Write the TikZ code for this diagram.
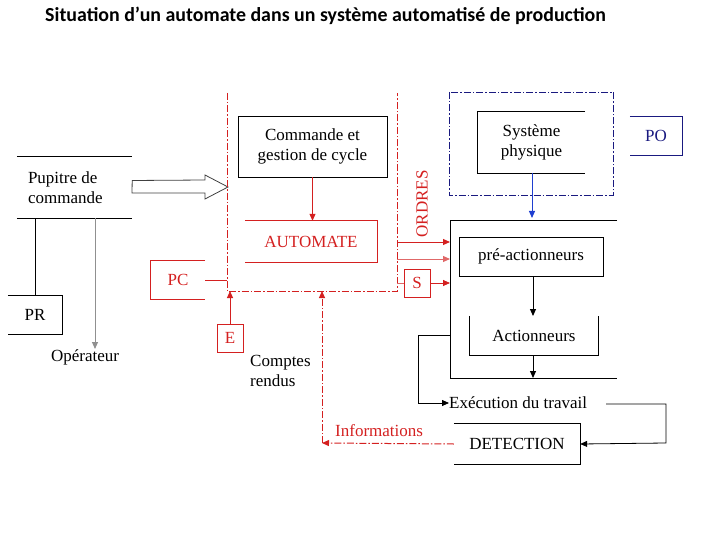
\documentclass[tikz,border=0pt]{standalone}
\usepackage{fontspec}
\setmainfont{Liberation Serif}
\newfontfamily\titlefont{Carlito}
\usetikzlibrary{arrows.meta}
\definecolor{cred}{HTML}{D42020}
\definecolor{lred}{HTML}{E06868}
\definecolor{navy}{HTML}{1A1A80}
\definecolor{cblue}{HTML}{1F3FD0}
\definecolor{gline}{HTML}{909090}
\tikzset{
  txt/.style={font=\fontsize{17}{20}\selectfont, align=center, inner sep=0pt},
  dd/.style={dash pattern=on 7pt off 2pt on 1.5pt off 2pt},
  tip/.style={-{Triangle[length=7pt,width=6pt]}},
  ln/.style={line width=0.8pt},
}
\begin{document}
\begin{tikzpicture}[x=1pt,y=-1pt]
\useasboundingbox (0,0) rectangle (720,540);
% title
\node[anchor=base west, inner sep=0pt, font=\titlefont\bfseries\fontsize{19.9}{22}\selectfont] (title) at (45,22) {Situation d’un automate dans un système automatisé de production};

% Pupitre
\node[txt, align=flush left, text width=104, minimum height=61] (pup) at (80,187.5) {Pupitre de\\commande};
\draw[ln] ([xshift=-11]pup.north west) -- (pup.north east);
\draw[ln] ([xshift=-11]pup.south west) -- (pup.south east);
% PR
\node[txt, minimum width=54, minimum height=38] (pr) at (35,315) {PR};
\draw[ln] (pr.north west) -- (pr.north east) -- (pr.south east) -- (pr.south west);
\draw[ln] (pr.north) ++(0.5,0) coordinate (prt) (pup.south west -| prt) -- (prt);
% Operateur
\node[txt, anchor=north] (op) at (85,349) {Opérateur};
\coordinate (opt) at (95,218);
\draw[gline, line width=1pt, -{Triangle[length=7pt,width=6pt]}] (opt) -- (opt |- op.north);
% hollow arrow
\draw[line width=0.8pt, draw=black!75] (pup.east) ++(0,-7) -- (205,180) -- (205,175) -- (228,187) -- (205,199) -- (205,193) -- (132,193) -- cycle;

% PC area (red dash-dot)
\coordinate (pcTL) at (227,93);
\coordinate (pcBL) at (227,291);
\coordinate (pcBR) at (397,291);
\coordinate (pcTR) at (397,93);
\draw[cred, dd, line width=0.9pt] (pcTL) -- (pcBL) -- (pcBR) -- (pcTR);

% Commande et gestion de cycle
\node[txt, draw, ln, minimum width=149, minimum height=61] (cmd) at (312.5,146.5) {Commande et\\gestion de cycle};
% AUTOMATE
\node[txt, text=cred, minimum width=132, minimum height=41] (auto) at (311,241.5) {AUTOMATE};
\draw[cred, ln] (auto.north west) -- (auto.north east) -- (auto.south east) -- (auto.south west);
\draw[cred, ln, tip] (cmd.south) -- (cmd.south |- auto.north);

% ORDRES
\node[txt, text=cred, rotate=90] (ordres) at (422,204) {ORDRES};

% PC box
\node[txt, text=cred, minimum width=54, minimum height=38] (pc) at (178,280) {PC};
\draw[cred, ln] (pc.north east) -- (pc.north west) -- (pc.south west) -- (pc.south east);
\draw[cred, ln] (pc.east) -- (pc.east -| pcBL);

% E box
\node[txt, text=cred, draw=cred, ln, minimum width=26, minimum height=28] (e) at (230,338) {E};
\draw[cred, line width=1pt, tip] (e.north) -- (e.north |- pcBL);

% Comptes rendus
\node[txt, align=left, anchor=north west] (cr) at (250,355) {Comptes\\rendus};

% S box
\node[txt, text=cred, draw=cred, ln, minimum width=26, minimum height=28] (s) at (417,283) {S};

% PO block
\coordinate (poTL) at (450,220);
\coordinate (poBL) at (450,378);
\draw[ln] (617,220) -- (poTL) -- (poBL) -- (617,378);

% outputs
\draw[cred, line width=1pt, tip] (397,242) -- (poTL |- 0,242);
\draw[lred, line width=1pt, tip] (397,259) -- (poTL |- 0,259);
\draw[lred, line width=0.8pt] (397,283) -- (s.west);
\draw[cred, line width=0.8pt, tip] (s.east) -- (poTL |- s.east);

% Systeme physique / blue box
\draw[navy, dd, line width=0.9pt] (449,92) rectangle (613,195);
\node[txt, minimum width=107, minimum height=61] (sys) at (531.5,142.5) {Système\\physique};
\draw[ln] (sys.north east) -- (sys.north west) -- (sys.south west) -- (sys.south east);
\node[txt, text=navy, minimum width=52, minimum height=38] (po) at (656,136) {PO};
\draw[navy, ln] (po.north west) -- (po.north east) -- (po.south east) -- (po.south west);
\draw[cblue, line width=1pt, tip] (532,173) -- (532,218);

% pre-actionneurs
\node[txt, draw, ln, minimum width=144, minimum height=39] (pre) at (531,256.5) {pré-actionneurs};
\node[txt, minimum width=128, minimum height=39] (act) at (534,335.5) {Actionneurs};
\draw[ln] (act.north west) -- (act.south west) -- (act.south east) -- (act.north east);
\draw[line width=1pt, tip] (533,276) -- (533,316);
\draw[line width=1pt, tip] (533,355) -- (533,378);

% Execution
\node[txt, anchor=west] (exe) at (449,403) {Exécution du travail};
\draw[ln, tip] (450,335) -- (418,335) -- (418,403) -- (exe.west);

% DETECTION
\node[txt, minimum width=126, minimum height=40] (det) at (517,444) {DETECTION};
\draw[ln] (det.north west) -- (det.north east) -- (det.south east) -- (det.south west);
\draw[ln, tip] (606,404) -- (666,404) -- (666,443) -- (det.east);

% Informations
\coordinate (ic) at (322,443);
\draw[cred, dd, line width=1pt, tip] (det.west) -- (ic);
\draw[cred, dd, line width=1pt, tip] (ic) -- (ic |- pcBL);
\node[txt, text=cred, anchor=base west] (info) at (335,436) {Informations};
\end{tikzpicture}
\end{document}
